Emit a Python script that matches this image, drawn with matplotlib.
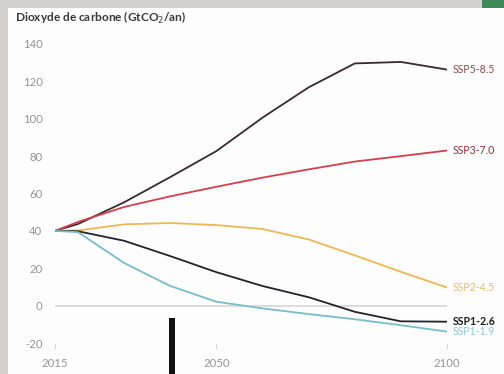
import matplotlib
matplotlib.use("Agg")
import matplotlib.pyplot as plt
from matplotlib.patches import Rectangle

plt.rcParams['font.family'] = ['Lato', 'DejaVu Sans']

years = [2015, 2020, 2030, 2040, 2050, 2060, 2070, 2080, 2090, 2100]

ssp585 = [40, 43.7, 55.3, 68.8, 82.7, 100.6, 116.8, 129.6, 130.4, 126.3]
ssp370 = [40, 44.8, 52.8, 58.5, 63.6, 68.5, 72.9, 77.1, 80.0, 83.0]
ssp245 = [40, 40.2, 43.5, 44.2, 43.1, 41.0, 35.4, 26.9, 18.1, 9.7]
ssp126 = [40, 39.8, 34.7, 26.5, 17.9, 10.5, 4.5, -3.3, -8.4, -8.6]
ssp119 = [40, 39.3, 22.8, 10.5, 2.1, -1.5, -4.5, -7.3, -10.5, -13.9]

series_names = ["SSP5-8.5", "SSP3-7.0", "SSP2-4.5", "SSP1-2.6", "SSP1-1.9"]
series_values = [ssp585, ssp370, ssp245, ssp126, ssp119]

line_colors = ["#3a2a2e", "#d2404e", "#eab955", "#24222c", "#79bccb"]
label_colors = ["#8a4a4e", "#8a3036", "#e0c070", "#1a1a1a", "#8cc6d2"]
label_weights = ["normal", "normal", "normal", "bold", "normal"]

y_ticks = [-20, 0, 20, 40, 60, 80, 100, 120, 140]
x_ticks = [2015, 2050, 2100]

W, H = 504, 374
fig = plt.figure(figsize=(W / 100, H / 100), dpi=100)
fig.patch.set_facecolor("#d4d2d0")

# white panel on a grey frame, green corner at top right
fig.patches.append(Rectangle((8 / W, 0), 1, (H - 8) / H, transform=fig.transFigure,
                             facecolor="#fdfdfd", edgecolor="none", zorder=-10))
fig.patches.append(Rectangle((482 / W, (H - 8) / H), 1, 1, transform=fig.transFigure,
                             facecolor="#3c8a58", edgecolor="none", zorder=-10))

ax = fig.add_axes([55 / W, (H - 343) / H, 392 / W, 299 / H])
ax.set_facecolor("none")
ax.set_xlim(2015, 2100)
ax.set_ylim(-20, 140)
for s in ax.spines.values():
    s.set_visible(False)

ax.axhline(0, color="#d6d6d6", lw=1.2, zorder=1)

for name, vals, lc, tc, fw in zip(series_names, series_values, line_colors,
                                  label_colors, label_weights):
    ax.plot(years, vals, color=lc, lw=1.3, zorder=3)
    ax.text(years[-1] + 1.3, vals[-1], name, color=tc, fontsize=7.6,
            fontweight=fw, va="center", ha="left", clip_on=False)

ax.set_yticks(y_ticks)
ax.set_yticklabels([str(v) for v in y_ticks])
ax.set_xticks(x_ticks)
ax.set_xticklabels([str(v) for v in x_ticks])
ax.tick_params(axis="y", length=0, pad=9, labelsize=8.2, labelcolor="#949494")
ax.tick_params(axis="x", length=4, width=0.6, color="#d0d0d0", pad=7,
               labelsize=8.2, labelcolor="#949494")

fig.text(15 / W, (H - 18) / H, "Dioxyde de carbone (GtCO$_2$/an)", fontsize=8.6,
         fontweight="bold", color="#3a3a3a", va="center", ha="left")

# pointer bar
fig.patches.append(Rectangle((169 / W, 0), 6 / W, (H - 318) / H, transform=fig.transFigure,
                             facecolor="#111111", edgecolor="none", zorder=5))

fig.savefig("out.png", dpi=100)
